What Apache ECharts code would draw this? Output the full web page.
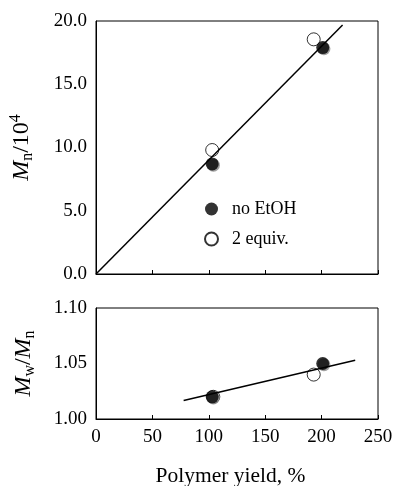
<!DOCTYPE html>
<html>
<head>
<meta charset="utf-8">
<script src="https://cdn.jsdelivr.net/npm/echarts@6/dist/echarts.min.js"></script>
<style>
  html, body { margin: 0; padding: 0; background: #fff; }
  #chart { width: 398px; height: 486px; }
</style>
</head>
<body>
<div id="chart"></div>
<script>
// data
var yieldTicks = [0, 50, 100, 150, 200, 250];
var mnTicks = [0, 5, 10, 15, 20];
var pdiTicks = [1.00, 1.05, 1.10];

// top panel: Mn/10^4 vs polymer yield
var mnNoEtOH = [[103, 8.7], [201, 17.9]];
var mnEquiv = [[103, 9.8], [193, 18.55]];
var mnFit = [[0, 0], [218.6, 19.68]];

// bottom panel: Mw/Mn vs polymer yield
var pdiNoEtOH = [[103, 1.020], [201, 1.050]];
var pdiEquiv = [[104, 1.020], [193, 1.040]];
var pdiFit = [[77.7, 1.0167], [229.8, 1.0529]];

var font = 'Liberation Serif';
var myChart = echarts.init(document.getElementById('chart'));

var filledStyle = {
    color: '#000',
    shadowColor: '#888',
    shadowOffsetX: 1.2,
    shadowOffsetY: 1.2,
    shadowBlur: 0
};
var openStyle = { color: '#fff', borderColor: '#000', borderWidth: 1 };

var nameRich = {
    i: { fontStyle: 'italic', fontFamily: font, fontSize: 24, color: '#000' },
    s: { fontFamily: font, fontSize: 16, color: '#000', verticalAlign: 'bottom', padding: [12, 0, 0, 0] },
    t: { fontFamily: font, fontSize: 24, color: '#000' },
    p: { fontFamily: font, fontSize: 16, color: '#000', verticalAlign: 'top', padding: [0, 0, 10, 0] }
};

function axisBase() {
    return {
        type: 'value',
        axisLine: { show: true, lineStyle: { color: '#000', width: 1 } },
        splitLine: { show: false },
        axisLabel: { color: '#000', fontFamily: font, fontSize: 19 }
    };
}

var option = {
    animation: false,
    backgroundColor: '#fff',
    grid: [
        { left: 96, top: 21, width: 282, height: 253, show: true, borderColor: '#000', borderWidth: 1,
          outerBoundsMode: 'none', containLabel: false },
        { left: 96, top: 308, width: 282, height: 111, show: true, borderColor: '#000', borderWidth: 1,
          outerBoundsMode: 'none', containLabel: false }
    ],
    xAxis: [
        Object.assign(axisBase(), {
            gridIndex: 0, min: yieldTicks[0], max: yieldTicks[yieldTicks.length - 1], interval: 50,
            axisTick: { show: true, inside: true, length: 4, lineStyle: { color: '#000' } },
            axisLabel: { show: false }
        }),
        Object.assign(axisBase(), {
            gridIndex: 1, min: yieldTicks[0], max: yieldTicks[yieldTicks.length - 1], interval: 50,
            axisTick: { show: true, inside: true, length: 4, lineStyle: { color: '#000' } },
            axisLabel: { color: '#000', fontFamily: font, fontSize: 19, margin: 9 },
            name: 'Polymer yield, %',
            nameLocation: 'middle',
            nameGap: 46,
            nameTextStyle: { color: '#000', fontFamily: font, fontSize: 21.5, padding: [0, 13, 0, 0] }
        })
    ],
    yAxis: [
        Object.assign(axisBase(), {
            gridIndex: 0, min: mnTicks[0], max: mnTicks[mnTicks.length - 1], interval: 5,
            axisTick: { show: false },
            axisLabel: { color: '#000', fontFamily: font, fontSize: 19, margin: 9,
                formatter: function (v) { return v.toFixed(1); } },
            name: '{i|M}{s|n}{t|/10}{p|4}',
            nameLocation: 'middle',
            nameRotate: 90,
            nameGap: 60,
            nameTextStyle: { color: '#000', fontFamily: font, fontSize: 24, rich: nameRich }
        }),
        Object.assign(axisBase(), {
            gridIndex: 1, min: pdiTicks[0], max: pdiTicks[pdiTicks.length - 1], interval: 0.05,
            axisTick: { show: false },
            axisLabel: { color: '#000', fontFamily: font, fontSize: 19, margin: 9,
                formatter: function (v) { return v.toFixed(2); } },
            name: '{i|M}{s|w}{t|/}{i|M}{s|n}',
            nameLocation: 'middle',
            nameRotate: 90,
            nameGap: 58,
            nameTextStyle: { color: '#000', fontFamily: font, fontSize: 24, rich: nameRich }
        })
    ],
    legend: {
        orient: 'vertical',
        left: 199,
        top: 195,
        itemGap: 12,
        itemWidth: 13,
        itemHeight: 13,
        textStyle: { color: '#000', fontFamily: font, fontSize: 18, padding: [0, 0, 0, 9] },
        data: [
            { name: 'no EtOH', icon: 'circle' },
            { name: '2 equiv.', icon: 'circle' }
        ]
    },
    series: [
        {
            type: 'line', xAxisIndex: 0, yAxisIndex: 0, data: mnFit,
            symbol: 'none', lineStyle: { color: '#000', width: 1.5 }, silent: true
        },
        {
            name: '2 equiv.', type: 'scatter', xAxisIndex: 0, yAxisIndex: 0, data: mnEquiv,
            symbolSize: 13, itemStyle: openStyle
        },
        {
            name: 'no EtOH', type: 'scatter', xAxisIndex: 0, yAxisIndex: 0, data: mnNoEtOH,
            symbolSize: 13, itemStyle: filledStyle
        },
        {
            type: 'line', xAxisIndex: 1, yAxisIndex: 1, data: pdiFit,
            symbol: 'none', lineStyle: { color: '#000', width: 1.5 }, silent: true
        },
        {
            name: '2 equiv.', type: 'scatter', xAxisIndex: 1, yAxisIndex: 1, data: pdiEquiv,
            symbolSize: 13, itemStyle: openStyle
        },
        {
            name: 'no EtOH', type: 'scatter', xAxisIndex: 1, yAxisIndex: 1, data: pdiNoEtOH,
            symbolSize: 13, itemStyle: filledStyle
        }
    ]
};

myChart.setOption(option);
window.onresize = myChart.resize;
</script>
</body>
</html>
